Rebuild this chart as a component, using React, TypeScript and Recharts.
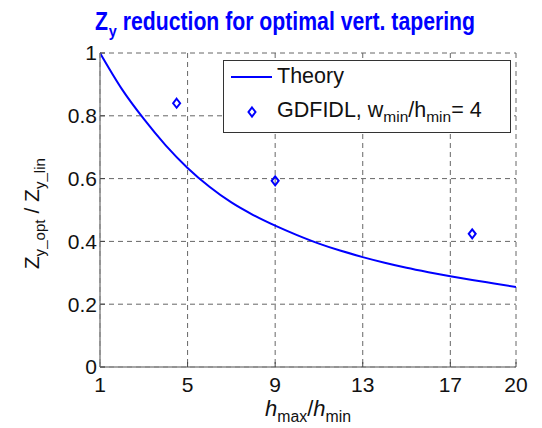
import React from "react";
import { ComposedChart, Line, Scatter, XAxis, YAxis, CartesianGrid } from "recharts";

// h_max / h_min ratio for the theory curve
const theoryRatio = [1, 2, 3, 4, 5, 6, 7, 8, 9, 10, 11, 12, 13, 14, 15, 16, 17, 18, 19, 20];
const theoryZ = [1.0, 0.885, 0.79, 0.706, 0.634, 0.574, 0.524, 0.484, 0.45, 0.42, 0.393, 0.37, 0.35, 0.332, 0.316, 0.302, 0.289, 0.277, 0.266, 0.255];

// GDFIDL simulation points
const gdfidlRatio = [4.5, 9, 18];
const gdfidlZ = [0.84, 0.593, 0.424];

const xTicks = [1, 5, 9, 13, 17, 20];
const yTicks = [0, 0.2, 0.4, 0.6, 0.8, 1];

const theoryData = theoryRatio.map((x, i) => ({ x, theory: theoryZ[i] }));
const gdfidlData = gdfidlRatio.map((x, i) => ({ x, y: gdfidlZ[i] }));

const BLUE = "#0000ff";
const FONT = "'Liberation Sans', Arial, sans-serif";

const Diamond = (props: any) => {
  const { cx, cy } = props;
  return (
    <path
      d={`M${cx},${cy - 4.5} L${cx + 3.5},${cy} L${cx},${cy + 4.5} L${cx - 3.5},${cy} Z`}
      fill="none"
      stroke={BLUE}
      strokeWidth={2}
    />
  );
};

const sub = { fontSize: "0.72em", verticalAlign: "-0.35em" } as React.CSSProperties;

const LegendBox = () => (
  <div
    style={{
      position: "absolute",
      left: 223,
      top: 60,
      width: 286,
      height: 71,
      border: "1px solid #333",
      background: "#fff",
      fontFamily: FONT,
      fontSize: 21.5,
      color: "#111",
    }}
  >
    <svg width={60} height={70} style={{ position: "absolute", left: 0, top: 0 }}>
      <line x1={7} y1={16} x2={48} y2={16} stroke={BLUE} strokeWidth={2} />
      <Diamond cx={28} cy={51} />
    </svg>
    <div style={{ position: "absolute", left: 53, top: 3, whiteSpace: "nowrap" }}>Theory</div>
    <div style={{ position: "absolute", left: 53, top: 37, whiteSpace: "nowrap" }}>
      GDFIDL, w<span style={sub}>min</span>/h<span style={sub}>min</span>= 4
    </div>
  </div>
);

export default function App() {
  return (
    <div style={{ position: "relative", width: 542, height: 428, background: "#fff" }}>
      <style>{"body{margin:0}"}</style>
      <svg width={542} height={50} style={{ position: "absolute", left: 0, top: 0 }}>
        <text
          x={95}
          y={30}
          textLength={380}
          lengthAdjust="spacingAndGlyphs"
          fill={BLUE}
          fontFamily={FONT}
          fontWeight="bold"
          fontSize={25}
        >
          Z
          <tspan fontSize={17} dx={1} dy={7}>y</tspan>
          <tspan dy={-7}> reduction for optimal vert. tapering</tspan>
        </text>
      </svg>
      <ComposedChart
        width={542}
        height={428}
        data={theoryData}
        margin={{ top: 53, right: 26, left: 0, bottom: 0 }}
      >
        <CartesianGrid stroke="#666" strokeDasharray="5 4" />
        <XAxis
          dataKey="x"
          type="number"
          domain={[1, 20]}
          ticks={xTicks}
          height={61}
          tickSize={-5}
          tickMargin={15}
          axisLine={{ stroke: "#888", strokeWidth: 1.5 }}
          tickLine={{ stroke: "#444" }}
          tick={{ fill: "#111", fontSize: 21, fontFamily: FONT }}
          allowDataOverflow
        />
        <XAxis
          xAxisId="top"
          orientation="top"
          type="number"
          domain={[1, 20]}
          ticks={xTicks}
          height={0}
          tickSize={-5}
          tick={false}
          axisLine={{ stroke: "#555", strokeWidth: 1 }}
          tickLine={{ stroke: "#444" }}
        />
        <YAxis
          type="number"
          domain={[0, 1]}
          ticks={yTicks}
          width={100}
          tickSize={-5}
          tickMargin={8}
          axisLine={{ stroke: "#888", strokeWidth: 1.5 }}
          tickLine={{ stroke: "#444" }}
          tick={{ fill: "#111", fontSize: 21, fontFamily: FONT }}
          tickFormatter={(v: number) => String(v)}
        />
        <YAxis
          yAxisId="right"
          orientation="right"
          type="number"
          domain={[0, 1]}
          ticks={yTicks}
          width={0}
          tickSize={-5}
          tick={false}
          axisLine={{ stroke: "#555", strokeWidth: 1 }}
          tickLine={{ stroke: "#444" }}
        />
        <Line
          dataKey="theory"
          type="monotone"
          stroke={BLUE}
          strokeWidth={2}
          dot={false}
          isAnimationActive={false}
        />
        <Scatter data={gdfidlData} dataKey="y" shape={<Diamond />} isAnimationActive={false} />
      </ComposedChart>
      <LegendBox />
      <div
        style={{
          position: "absolute",
          left: 36 - 100,
          top: 210 - 13,
          width: 200,
          textAlign: "center",
          transform: "rotate(-90deg)",
          fontFamily: FONT,
          fontSize: 21,
          color: "#111",
          whiteSpace: "nowrap",
          lineHeight: "26px",
        }}
      >
        Z<span style={sub}>y_opt</span> / Z<span style={sub}>y_lin</span>
      </div>
      <div
        style={{
          position: "absolute",
          left: 200,
          width: 216,
          top: 396,
          textAlign: "center",
          fontFamily: FONT,
          fontSize: 22,
          color: "#111",
          whiteSpace: "nowrap",
        }}
      >
        <i>h</i>
        <span style={sub}>max</span>/<i>h</i>
        <span style={sub}>min</span>
      </div>
    </div>
  );
}
